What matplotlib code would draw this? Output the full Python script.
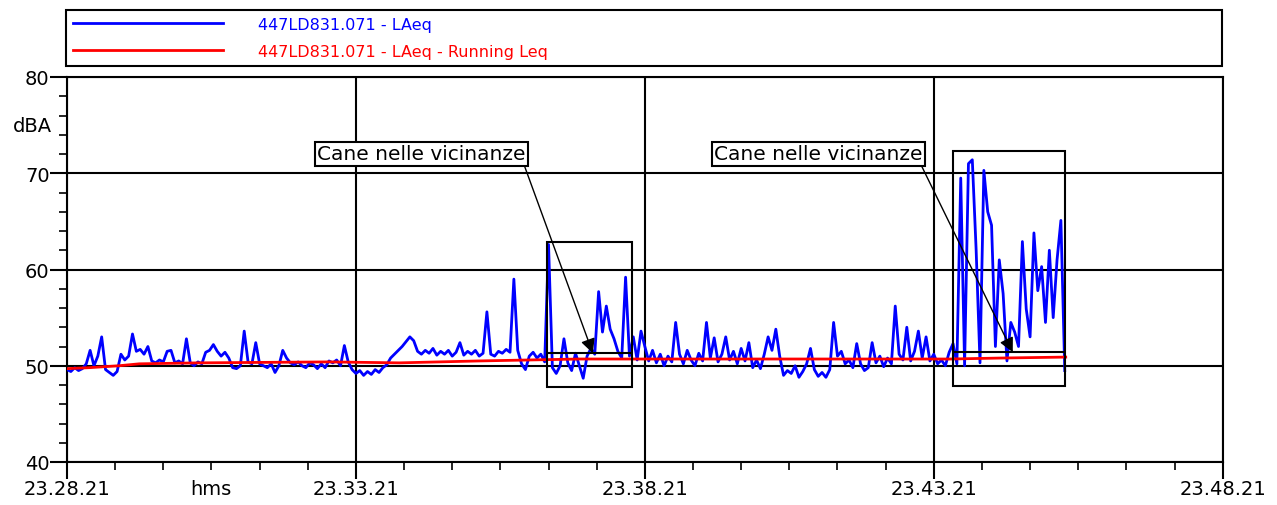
import matplotlib
matplotlib.use("Agg")
import matplotlib.pyplot as plt
from matplotlib.patches import Rectangle
from matplotlib.ticker import MultipleLocator, FixedLocator, FixedFormatter
import numpy as np

# ---- measured data: 447LD831.071, start 23.28.21, one value every 4 s ----
STEP_S = 4
LAEQ = [
    49.6, 49.4, 49.8, 49.5, 49.7, 50.2, 51.6, 50.0, 51.0, 53.0,
    49.6, 49.3, 49.0, 49.4, 51.2, 50.6, 51.0, 53.3, 51.5, 51.7,
    51.2, 52.0, 50.5, 50.3, 50.6, 50.4, 51.5, 51.6, 50.3, 50.5,
    50.2, 52.8, 50.3, 50.0, 50.4, 50.2, 51.4, 51.6, 52.2, 51.5,
    51.0, 51.4, 50.8, 49.8, 49.7, 50.0, 53.6, 50.4, 50.2, 52.4,
    50.2, 50.0, 49.8, 50.2, 49.3, 50.0, 51.6, 50.8, 50.3, 50.1,
    50.4, 50.0, 49.8, 50.3, 50.1, 49.7, 50.2, 49.8, 50.5, 50.3,
    50.6, 50.0, 52.1, 50.4, 49.6, 49.2, 49.5, 49.0, 49.4, 49.1,
    49.6, 49.3, 49.8, 50.1, 50.8, 51.2, 51.6, 52.0, 52.5, 53.0,
    52.6, 51.5, 51.2, 51.6, 51.3, 51.8, 51.1, 51.5, 51.2, 51.6,
    51.0, 51.4, 52.4, 51.1, 51.5, 51.2, 51.6, 51.0, 51.3, 55.6,
    51.2, 51.0, 51.5, 51.3, 51.7, 51.4, 59.0, 51.6, 50.2, 49.6,
    51.0, 51.4, 50.8, 51.2, 50.4, 62.6, 49.8, 49.2, 50.0, 52.8,
    50.3, 49.5, 51.3, 50.0, 48.7, 51.0, 51.8, 51.2, 57.7, 53.5,
    56.2, 53.8, 52.8, 51.5, 50.8, 59.2, 51.0, 53.0, 50.6, 53.6,
    52.0, 50.5, 51.6, 50.3, 51.2, 50.0, 51.0, 50.4, 54.5, 51.2,
    50.2, 51.6, 50.6, 50.0, 51.3, 50.5, 54.5, 50.8, 52.9, 50.4,
    51.2, 53.0, 50.6, 51.5, 50.2, 51.8, 50.5, 52.4, 49.8, 50.6,
    49.7, 51.2, 53.0, 51.6, 53.8, 51.0, 49.0, 49.5, 49.2, 50.0,
    48.8, 49.4, 50.2, 51.8, 49.6, 48.9, 49.3, 48.8, 49.6, 54.5,
    51.0, 51.5, 50.2, 50.6, 49.8, 52.3, 50.2, 49.5, 49.8, 52.4,
    50.3, 51.0, 49.9, 50.8, 50.2, 56.2, 51.2, 50.6, 54.0, 50.5,
    51.5, 53.6, 50.8, 53.0, 50.5, 51.2, 50.2, 50.6, 50.0, 51.4,
    52.3, 50.2, 69.5, 50.0, 71.0, 71.4, 62.0, 50.3, 70.3, 66.0,
    64.6, 52.0, 61.0, 57.5, 50.5, 54.5, 53.5, 52.0, 62.9, 55.9,
    53.0, 63.8, 57.8, 60.3, 54.5, 62.0, 55.0, 61.0, 65.1, 49.5,
]

# running Leq, read at a few instants (s from start)
RLEQ_T = [0, 23, 54, 75, 137, 272, 345, 428, 532, 657, 917, 969, 1037]
RLEQ = [49.7, 49.8, 50.0, 50.2, 50.3, 50.4, 50.3, 50.5, 50.7, 50.7, 50.7, 50.8, 50.9]

TICK_S = [0, 300, 600, 900, 1200]
TICK_LABELS = ["23.28.21", "23.33.21", "23.38.21", "23.43.21", "23.48.21"]

# marked events ("Cane nelle vicinanze")
EV_LABEL = "Cane nelle vicinanze"
EV_T0 = [498, 920]
EV_T1 = [587, 1036]
EV_LO = [47.8, 47.9]
EV_HI = [62.9, 72.3]
EV_LEQ = [51.3, 51.4]
EV_TIP = [546, 982]
EV_TXT_T = [368, 780]

BLUE, RED = "#0000ff", "#ff0000"
plt.rcParams["font.family"] = "DejaVu Sans"

W, H = 1277, 506
fig = plt.figure(figsize=(W / 100, H / 100), dpi=100)
ax = fig.add_axes([67 / W, 1 - 463 / H, 1155.7 / W, 385 / H])

t = np.arange(len(LAEQ)) * STEP_S
ax.plot(t, LAEQ, color=BLUE, lw=2.0, zorder=3, label="447LD831.071 - LAeq")
ax.plot(RLEQ_T, RLEQ, color=RED, lw=2.0, zorder=4,
        label="447LD831.071 - LAeq - Running Leq")

for t0, t1, lo, hi, leq, tip, tx in zip(EV_T0, EV_T1, EV_LO, EV_HI, EV_LEQ, EV_TIP, EV_TXT_T):
    ax.add_patch(Rectangle((t0, lo), t1 - t0, hi - lo, fill=False,
                           ec="black", lw=1.5, zorder=5))
    ax.hlines(leq, t0, t1, color="black", lw=1.5, zorder=5)
    ax.annotate(EV_LABEL, xy=(tip, leq), xytext=(tx, 72.0), fontsize=14.5,
                ha="center", va="center", zorder=6,
                bbox=dict(boxstyle="square,pad=0.12", fc="white", ec="black", lw=1.5),
                arrowprops=dict(arrowstyle="-|>,head_length=0.6,head_width=0.3",
                                color="black", lw=1.0, relpos=(0.99, 0.0),
                                shrinkA=0, shrinkB=0))

ax.set_xlim(0, 1200)
ax.set_ylim(40, 80)
ax.xaxis.set_major_locator(FixedLocator(TICK_S))
ax.xaxis.set_major_formatter(FixedFormatter(TICK_LABELS))
ax.xaxis.set_minor_locator(MultipleLocator(50))
ax.yaxis.set_major_locator(MultipleLocator(10))
ax.yaxis.set_minor_locator(MultipleLocator(2))
ax.grid(which="major", color="black", lw=1.5, zorder=1)
ax.tick_params(which="major", direction="out", length=12.5, width=1.5,
               labelsize=14, pad=0, colors="black")
ax.tick_params(which="minor", direction="out", length=5.5, width=1.2)
for s in ax.spines.values():
    s.set_linewidth(1.5)

fig.text(52 / W, 1 - 127 / H, "dBA", ha="right", va="center", fontsize=14)
fig.text(211 / W, 1 - 490 / H, "hms", ha="center", va="center", fontsize=14)

leg = ax.legend(loc="lower left", bbox_to_anchor=(-0.001, 1.028, 1.0, 0.15),
                mode="expand", ncol=1, fontsize=11.5, labelcolor="linecolor",
                handlelength=9.4, handletextpad=2.2, borderpad=0.45,
                labelspacing=0.75, borderaxespad=0, fancybox=False,
                frameon=True, edgecolor="black", framealpha=1)
leg.get_frame().set_linewidth(1.5)
for ln in leg.get_lines():
    ln.set_linewidth(2.0)

fig.savefig("out.png", dpi=100)
